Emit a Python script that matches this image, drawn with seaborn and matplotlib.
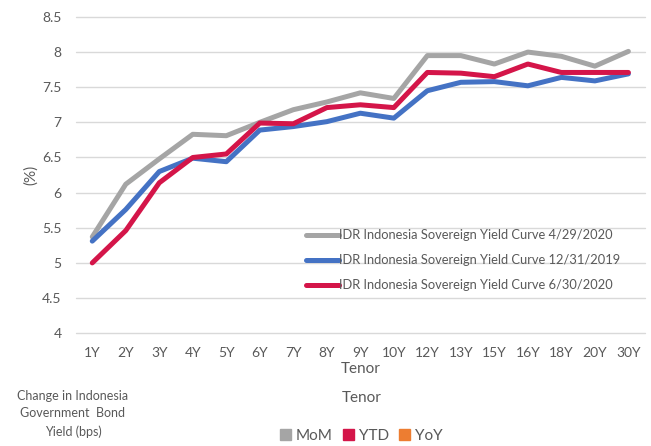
import pandas as pd
import matplotlib
matplotlib.use('Agg')
import matplotlib.pyplot as plt
import seaborn as sns
from matplotlib.patches import Patch

# Tenors and yield curves (%)
tenors = ['1Y', '2Y', '3Y', '4Y', '5Y', '6Y', '7Y', '8Y', '9Y', '10Y',
          '12Y', '13Y', '15Y', '16Y', '18Y', '20Y', '30Y']
curve_apr = [5.37, 6.12, 6.48, 6.83, 6.81, 7.00, 7.18, 7.29, 7.42, 7.34,
             7.95, 7.95, 7.83, 8.00, 7.94, 7.80, 8.01]
curve_dec = [5.31, 5.76, 6.30, 6.49, 6.44, 6.89, 6.94, 7.01, 7.13, 7.06,
             7.45, 7.57, 7.58, 7.52, 7.64, 7.59, 7.69]
curve_jun = [5.00, 5.46, 6.14, 6.50, 6.55, 6.99, 6.98, 7.21, 7.25, 7.21,
             7.71, 7.70, 7.65, 7.83, 7.71, 7.71, 7.71]
series_names = ['IDR Indonesia Sovereign Yield Curve 4/29/2020',
                'IDR Indonesia Sovereign Yield Curve 12/31/2019',
                'IDR Indonesia Sovereign Yield Curve 6/30/2020']
colors = ['#A5A5A5', '#4472C4', '#D41549']

bar_legend = ['MoM', 'YTD', 'YoY']
bar_colors = ['#A5A5A5', '#D41549', '#ED7D31']

rows = []
for name, vals in zip(series_names, [curve_apr, curve_dec, curve_jun]):
    for t, v in zip(tenors, vals):
        rows.append({'Tenor': t, 'Yield': v, 'Curve': name})
df = pd.DataFrame(rows)

sns.set_style('white')
plt.rcParams['font.family'] = ['Lato', 'DejaVu Sans']
txt = '#595959'

fig = plt.figure(figsize=(6.51, 4.46), dpi=100)
ax = fig.add_axes([0.116, 0.253, 0.875, 0.709])

sns.lineplot(data=df, x='Tenor', y='Yield', hue='Curve', palette=colors,
             linewidth=3.6, sort=False, ax=ax)

ax.set_ylim(4, 8.5)
ax.set_yticks([4, 4.5, 5, 5.5, 6, 6.5, 7, 7.5, 8, 8.5])
ax.set_yticklabels(['4', '4.5', '5', '5.5', '6', '6.5', '7', '7.5', '8', '8.5'])
ax.set_xlim(-0.5, len(tenors) - 0.5)
ax.grid(axis='y', color='#D9D9D9', linewidth=1)
for gl in ax.get_ygridlines():
    gl.set_clip_on(False)
ax.set_axisbelow(True)
for s in ax.spines.values():
    s.set_visible(False)
ax.tick_params(axis='both', length=0, colors=txt, labelsize=10, pad=10)
ax.set_xlabel('Tenor', color=txt, fontsize=11, labelpad=2)
ax.set_ylabel('(%)', color=txt, fontsize=11, labelpad=3)

leg = ax.legend(loc='center left', bbox_to_anchor=(0.405, 0.231), frameon=False,
                fontsize=9.3, handlelength=2.5, handletextpad=0.05,
                labelspacing=1.0, borderpad=0, borderaxespad=0)
for t in leg.get_texts():
    t.set_color(txt)

# partial view of the next chart below
fig.text(0.112, 0.072, 'Change in Indonesia\nGovernment  Bond\nYield (bps)',
         ha='center', va='center', color=txt, fontsize=9, linespacing=1.55)
fig.text(0.555, 0.107, 'Tenor', ha='center', va='center', color=txt, fontsize=11)
handles = [Patch(color=c, label=l) for c, l in zip(bar_colors, bar_legend)]
leg2 = fig.legend(handles=handles, loc='center', bbox_to_anchor=(0.555, 0.022),
                  ncol=3, frameon=False, fontsize=11, handlelength=0.7,
                  handleheight=0.7, handletextpad=0.3, columnspacing=0.7)
for t in leg2.get_texts():
    t.set_color(txt)

fig.savefig('out.png', dpi=100)
